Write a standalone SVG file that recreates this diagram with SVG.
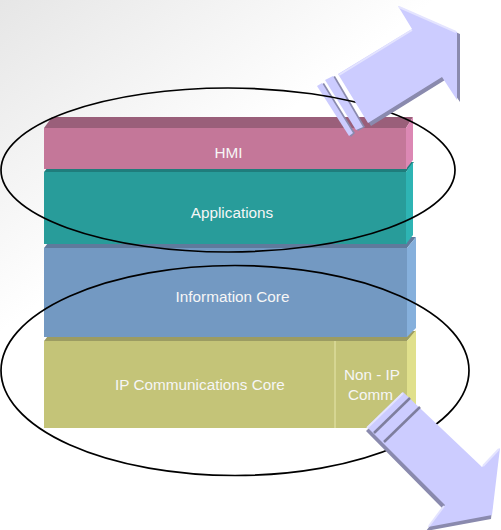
<svg xmlns="http://www.w3.org/2000/svg" width="501" height="530" viewBox="0 0 501 530">
<defs>
<linearGradient id="bg" gradientUnits="userSpaceOnUse" x1="0" y1="0" x2="230" y2="300">
<stop offset="0" stop-color="#e6e6e6"/>
<stop offset="0.7" stop-color="#ffffff"/>
</linearGradient>
<style>
.lbl{font-family:"Liberation Sans",Arial,sans-serif;font-size:15.3px;fill:#f6f6f6;text-anchor:middle}
.ell{fill:none;stroke:#000;stroke-width:1.7}
.arrow{fill:#ccccff}
.adark{fill:#8a8aae}
.alight{fill:none;stroke:#e4e4ff;stroke-width:2}
.stripe{stroke:#7e7e9e;stroke-width:2.5}
</style>
</defs>
<rect width="501" height="530" fill="#ffffff"/>
<rect width="501" height="530" fill="url(#bg)"/>

<g id="ip-block">
<polygon points="44,341 52,331 416,331 407,341" fill="#9c9c62"/>
<rect x="44" y="341" width="363" height="87" fill="#c4c478"/>
<polygon points="407,341 416,330 416,418 407,428" fill="#e0e08c"/>
<line x1="335" y1="341" x2="335" y2="428" stroke="#e2e2a4" stroke-width="1.2"/>
<text class="lbl" x="200" y="390">IP Communications Core</text>
</g>
<g id="non-ip">
<text class="lbl" x="372" y="380">Non - IP</text>
<text class="lbl" x="370.5" y="400">Comm</text>
</g>

<g id="info-core">
<polygon points="44,248 52,238 416,237 407,248" fill="#5f7a9c"/>
<rect x="44" y="248" width="363" height="89" fill="#7399c2"/>
<polygon points="407,248 416,237 416,328 407,337" fill="#86b0dc"/>
<text class="lbl" x="232.5" y="302">Information Core</text>
</g>

<g id="applications">
<polygon points="44,172 52,162 414,162 406,172" fill="#1f7d7c"/>
<rect x="44" y="172" width="363" height="72" fill="#289c9a"/>
<polygon points="406,172 413,162 413,235 406,244" fill="#2eb4b4"/>
<text class="lbl" x="232" y="218">Applications</text>
</g>

<g id="hmi">
<polygon points="44,128 52,117 413,117 406,128" fill="#9a5f7a"/>
<rect x="44" y="128" width="363" height="41" fill="#c47799"/>
<polygon points="406,128 413,117 413,160 406,169" fill="#dc88b4"/>
<text class="lbl" x="228.5" y="158">HMI</text>
</g>

<g id="connectors">
<g id="arrow-up-bars">
<polygon class="adark" points="319,86 324,83 355,133 351,137"/>
<polygon class="arrow" points="317,86 322,83 353,133 349,136"/>
<polygon class="adark" points="327,80 335,76 365,127 358,131"/>
<polygon class="arrow" points="325,80 333,76 363,127 356,130"/>
</g>
<ellipse id="top-ellipse" class="ell" cx="228" cy="170" rx="227" ry="82"/>
<ellipse id="bottom-ellipse" class="ell" cx="235" cy="370.5" rx="234" ry="105"/>
<g id="arrow-up">
<polygon class="adark" points="341,76 415,31 401,8 460,34 460,102 445,80 371,126"/>
<polygon class="arrow" points="338,74 412,29 398,6 457,32 457,100 442,77 368,123"/>
<polyline class="alight" points="339,75 412,30"/>
<polyline class="alight" points="399,7 456,32"/>
</g>
<g id="arrow-down">
<polygon class="adark" points="402,396 481,471 498,452 491,519 426,531 443,509 366,431"/>
<polygon class="arrow" points="403,392 482,467 500,448 492,515 428,527 445,505 367,427"/>
<polyline class="alight" points="403,393 367,428"/>
<polyline class="alight" points="483,466 499,449"/>
<polyline class="alight" points="429,526 444,506"/>
<line class="stripe" x1="410" y1="398" x2="374" y2="433"/>
<line class="stripe" x1="420" y1="407" x2="384" y2="442"/>
</g>
</g>
</svg>
